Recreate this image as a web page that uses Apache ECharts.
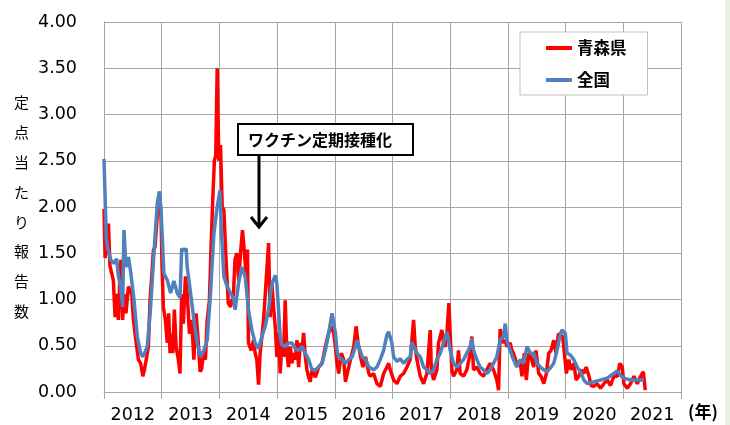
<!DOCTYPE html>
<html>
<head>
<meta charset="utf-8">
<script src="https://cdn.jsdelivr.net/npm/echarts@6/dist/echarts.min.js"></script>
<style>
html,body{margin:0;padding:0;background:#fff;}
#c{width:730px;height:425px;position:relative;}
#strip{position:absolute;left:725px;top:0;width:5px;height:425px;background:#e6f2de;}
</style>
</head>
<body>
<div id="c"></div>
<div id="strip"></div>
<script>
const yearLabels = ['2012','2013','2014','2015','2016','2017','2018','2019','2020','2021'];
const seriesNames = ['青森県','全国'];
const yAxisTitle = '定点当たり報告数';
const annotationText = 'ワクチン定期接種化';
const unitLabel = '(年)';

// x = week index since start of 2012 (52 weeks per year)
const redWeeks = [0,1,2.5,4,5.4,7,8.4,10,11.4,13,14.4,15.3,16.8,18,19.8,22,23.5,25,26.5,29,31,33,35,36.4,38.5,40,41.5,43,44.5,46,47.5,49,50,51.4,52.3,53.5,55.3,57,58.3,59.5,61,62,63.4,65,67,68.5,70,71.5,73.4,75,77,79,81,83,85,86.6,88,89.6,91.4,93,95,96.5,98,99.5,100.7,102,103.5,105,106.5,108,110,112,114,116.7,118,119.7,121.5,123,124.8,126.6,128,129.3,130.2,132.6,134.7,136.2,137.7,139.3,140.7,142.3,143.8,145.8,148.3,149.8,151.3,152.8,154.3,155.8,157.3,158.8,160.3,161.8,163.3,164.8,166.3,167.9,169.4,170.9,172.4,173.9,175.4,176.9,178.4,179.9,181.4,182.9,184.4,185.9,187.5,190.5,193.5,196.5,199.5,202.5,204.9,207,208.5,210,211.5,213.9,216,217.6,220,222.1,225.1,227.2,229,231.2,233.3,235.7,238.7,240,243,246,249,252,255,256.5,258,261,264,267,270,273,276,279,280.5,282,285,288,291,294,295,297,300,301.5,303,304.5,306,307.5,309,310.8,312,313.5,315,318,319.5,321,324,327,330,331.5,333,336,339,342,345,348,351,354,355.6,357,360,361.6,363,366,367.6,369,372,375.2,376.7,378.8,380.6,382.7,384.8,387.2,389.3,391.8,393.9,396.3,398.7,400.8,402.9,405.3,407.4,409.5,411.3,413.4,414.9,416.7,418.8,420.9,423.4,425.5,427.9,430,432.4,434.5,436.9,439,441.4,444.4,447.5,450.5,453.5,456.5,459.5,462.5,464.9,467,468.5,471.5,474.5,477.6,480.6,483.6,486,487.8];
const redValues = [1.98,1.45,1.55,1.82,1.36,1.28,1.21,0.81,1.06,0.78,1.28,1.43,0.78,1.06,0.85,1.14,1.1,1.06,0.78,0.53,0.35,0.31,0.17,0.24,0.38,0.49,0.99,1.25,1.53,1.57,1.82,2.08,2.15,1.9,1.36,0.92,0.78,0.53,0.85,0.42,0.63,0.42,0.89,0.49,0.35,0.2,1.06,0.74,1.25,1.06,0.63,0.78,0.35,0.85,0.53,0.22,0.25,0.42,0.35,0.78,0.99,1.57,2.08,2.51,2.55,3.5,2.5,2.67,2.0,1.97,1.43,0.96,0.92,1.06,1.43,1.5,1.2,1.5,1.75,1.5,1.28,1.54,0.53,0.45,0.56,0.42,0.35,0.08,0.42,0.6,0.78,1.14,1.61,0.81,1.17,0.92,0.71,0.38,0.64,0.2,0.53,0.38,0.99,0.42,0.27,0.49,0.31,0.42,0.35,0.56,0.27,0.53,0.45,0.64,0.38,0.24,0.16,0.11,0.24,0.16,0.27,0.31,0.49,0.64,0.71,0.64,0.49,0.31,0.2,0.42,0.35,0.11,0.24,0.35,0.49,0.71,0.53,0.38,0.27,0.38,0.2,0.17,0.2,0.09,0.06,0.2,0.27,0.31,0.24,0.13,0.09,0.17,0.2,0.27,0.35,0.78,0.49,0.35,0.17,0.09,0.2,0.67,0.24,0.13,0.24,0.53,0.6,0.67,0.53,0.49,0.63,0.96,0.63,0.24,0.17,0.24,0.45,0.2,0.17,0.24,0.42,0.6,0.24,0.27,0.2,0.17,0.24,0.31,0.24,0.13,0.02,0.68,0.53,0.56,0.49,0.53,0.45,0.42,0.31,0.31,0.17,0.42,0.13,0.42,0.38,0.27,0.45,0.2,0.17,0.09,0.2,0.42,0.45,0.56,0.42,0.63,0.65,0.6,0.42,0.2,0.35,0.24,0.31,0.13,0.17,0.24,0.2,0.27,0.18,0.07,0.06,0.09,0.04,0.09,0.13,0.07,0.17,0.17,0.31,0.27,0.09,0.04,0.09,0.17,0.09,0.17,0.22,0.02];

const blueWeeks = [0,2,3,6,9,11.4,13,15,16.8,18,19.8,22,24,27,30,33,35,39,42,45,48,50,51.4,54,57,60,63,66,68.5,70,72,74,75,78,81,84,87,90,93,96,99,102,104.5,106,108,111,114,117,118.2,121.2,124.2,127.2,130.2,133.2,136.2,139.3,142.3,145.3,148.3,151.3,154.3,155.8,157.3,158.8,160.3,163.3,166.3,169.4,172.4,175.4,178.4,181.4,184.4,187.5,190.5,193.5,196.5,199.5,202.5,205.5,207,208.5,210,211.5,214.5,217.6,220.6,223.6,226.6,228.1,229.6,232.7,235.7,238.7,240,243,246,249,252,255,256.5,258,259.5,261,264,267,270,273,276,277.5,279,282,285,288,291,294,297,300,303,306,309,310.5,312,315,318,321,324,327,330,331.5,333,336,339,342,345,348,351,354,357,360,361.6,363,366,369,372,375.2,378.2,381.2,384.2,387.2,390.2,393.3,396.3,399.3,402.3,405.3,408.3,411.3,412.8,415.8,417.3,420.3,423.4,426.4,429.4,432.4,435.4,441.4,447.5,453.5,459.5,462.5,465.5,468.5,474.5,480.6,486.6];
const blueValues = [2.52,1.68,1.57,1.43,1.39,1.44,1.25,1.14,0.92,1.75,1.35,1.46,1.3,1.0,0.6,0.42,0.38,0.49,0.92,1.5,2.04,2.17,1.97,1.28,1.21,1.07,1.2,1.07,1.02,1.55,1.53,1.55,1.35,1.07,0.78,0.53,0.38,0.45,0.56,1.07,1.71,2.0,2.18,1.7,1.25,1.14,1.07,1.0,0.89,1.17,1.35,1.25,0.89,0.67,0.53,0.47,0.6,0.71,0.89,1.17,1.26,1.17,0.89,0.6,0.51,0.49,0.53,0.53,0.47,0.45,0.49,0.42,0.35,0.24,0.24,0.27,0.31,0.45,0.64,0.85,0.87,0.64,0.45,0.38,0.35,0.31,0.35,0.38,0.49,0.56,0.49,0.38,0.35,0.27,0.26,0.24,0.27,0.35,0.45,0.62,0.65,0.63,0.53,0.38,0.33,0.36,0.31,0.35,0.38,0.54,0.49,0.42,0.38,0.27,0.24,0.2,0.24,0.35,0.42,0.53,0.65,0.56,0.45,0.31,0.27,0.31,0.35,0.42,0.49,0.58,0.45,0.35,0.27,0.24,0.2,0.24,0.31,0.38,0.56,0.6,0.74,0.56,0.45,0.35,0.27,0.35,0.31,0.49,0.42,0.42,0.31,0.27,0.24,0.22,0.26,0.31,0.45,0.63,0.67,0.63,0.42,0.4,0.35,0.27,0.22,0.13,0.09,0.11,0.13,0.15,0.2,0.23,0.18,0.15,0.13,0.13,0.13];

const redData = redWeeks.map((w, i) => [w, redValues[i]]);
const blueData = blueWeeks.map((w, i) => [w, blueValues[i]]);

const chart = echarts.init(document.getElementById('c'), null, {renderer: 'canvas'});
const gridColor = '#a6a6a6';
const numFont = 'DejaVu Sans';
const cjkFont = '"Noto Sans CJK JP", sans-serif';

chart.setOption({
  animation: false,
  backgroundColor: '#ffffff',
  grid: {left: 104, right: 49, top: 22, bottom: 33, containLabel: false},
  legend: {
    data: seriesNames,
    orient: 'vertical',
    left: 520, top: 32,
    icon: 'rect', itemWidth: 26, itemHeight: 4, itemGap: 12,
    padding: [6, 21, 5, 26],
    backgroundColor: '#fff',
    borderColor: '#bfbfbf', borderWidth: 1, borderRadius: 0,
    textStyle: {fontFamily: cjkFont, fontWeight: 'bold', fontSize: 16.5, color: '#000', lineHeight: 20}
  },
  xAxis: [
    {
      type: 'value', min: 0, max: 520, interval: 52,
      axisLine: {show: true, lineStyle: {color: gridColor, width: 1}},
      axisTick: {show: true, length: 7, lineStyle: {color: gridColor}},
      axisLabel: {show: false},
      splitLine: {show: true, lineStyle: {color: gridColor, width: 1}}
    },
    {
      type: 'category', data: yearLabels, position: 'bottom', boundaryGap: true,
      axisLine: {show: false}, axisTick: {show: false}, splitLine: {show: false},
      axisLabel: {fontFamily: numFont, fontSize: 17.5, color: '#000', margin: 14, interval: 0}
    }
  ],
  yAxis: {
    type: 'value', min: 0, max: 4, interval: 0.5,
    axisLine: {show: true, lineStyle: {color: gridColor, width: 1}},
    axisTick: {show: false},
    axisLabel: {formatter: v => v.toFixed(2), fontFamily: numFont, fontSize: 17.5, color: '#000', margin: 27},
    splitLine: {show: true, lineStyle: {color: gridColor, width: 1}},
    name: yAxisTitle.split('').join('\n'),
    nameLocation: 'middle', nameRotate: 0, nameGap: 75,
    nameTextStyle: {fontFamily: cjkFont, fontSize: 15, color: '#000', lineHeight: 29.8}
  },
  graphic: [
    {type: 'rect', shape: {x: 238, y: 124, width: 175, height: 31}, style: {fill: '#fff', stroke: '#000', lineWidth: 2}, z: 100},
    {type: 'text', x: 248, y: 140, style: {text: annotationText, fill: '#000', font: 'bold 16px "Noto Sans CJK JP"', textVerticalAlign: 'middle'}, z: 101},
    {type: 'line', shape: {x1: 259, y1: 155, x2: 259, y2: 226}, style: {stroke: '#000', lineWidth: 3}, z: 100},
    {type: 'polyline', shape: {points: [[251, 217], [259, 227], [267, 217]]}, style: {stroke: '#000', lineWidth: 3, fill: null}, z: 100},
    {type: 'text', x: 688, y: 412, style: {text: unitLabel, fill: '#000', font: 'bold 17px "Noto Sans CJK JP"', textVerticalAlign: 'middle'}, z: 100}
  ],
  series: [
    {name: seriesNames[0], type: 'line', xAxisIndex: 0, data: redData, showSymbol: false, symbol: 'none',
     lineStyle: {color: '#ff0000', width: 3.5}, itemStyle: {color: '#ff0000'}, z: 2},
    {name: seriesNames[1], type: 'line', xAxisIndex: 0, data: blueData, showSymbol: false, symbol: 'none',
     lineStyle: {color: '#4f81bd', width: 3.5}, itemStyle: {color: '#4f81bd'}, z: 3}
  ]
});
</script>
</body>
</html>
